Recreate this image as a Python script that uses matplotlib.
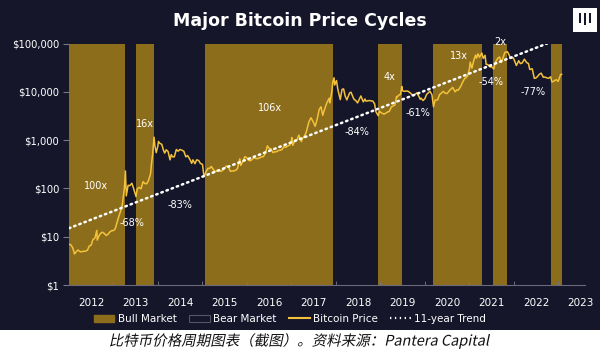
"""
Major Bitcoin price cycles: log-scale BTC price with bull/bear shading
and the 11-year trend line.
"""

import matplotlib
matplotlib.use("Agg")
import matplotlib.pyplot as plt
from matplotlib.patches import Patch, Rectangle, PathPatch
from matplotlib.lines import Line2D
from matplotlib.textpath import TextPath
from matplotlib.font_manager import FontProperties
from matplotlib.transforms import Affine2D, IdentityTransform
import pandas as pd

BG = "#16162b"
BULL = "#8c6d1c"
PRICE = "#f3c23a"

# bull market windows (start, end)
bull_starts = ["2012-01-01", "2013-07-05", "2015-01-20", "2018-12-10", "2020-03-08", "2021-07-12", "2022-11-06"]
bull_ends = ["2013-04-08", "2013-11-30", "2017-12-05", "2019-07-01", "2021-04-12", "2021-11-04", "2023-01-30"]

price_dates = [
    "2012-01-01", "2012-01-15", "2012-02-01", "2012-02-15", "2012-03-01", "2012-03-15", "2012-04-01",
    "2012-04-15", "2012-05-01", "2012-05-15", "2012-06-01", "2012-06-15", "2012-07-01", "2012-07-15",
    "2012-08-01", "2012-08-16", "2012-08-20", "2012-09-01", "2012-09-15", "2012-10-01", "2012-10-15",
    "2012-11-01", "2012-11-15", "2012-12-01", "2012-12-15",
    "2013-01-01", "2013-01-15", "2013-02-01", "2013-02-15", "2013-03-01", "2013-03-15", "2013-04-01",
    "2013-04-09", "2013-04-16", "2013-05-01", "2013-05-15", "2013-06-01", "2013-06-15", "2013-07-05",
    "2013-07-15", "2013-08-01", "2013-08-15", "2013-09-01", "2013-09-15", "2013-10-01", "2013-10-15",
    "2013-11-01", "2013-11-10", "2013-11-18", "2013-11-30", "2013-12-07", "2013-12-18", "2013-12-31",
    "2014-01-05", "2014-01-15", "2014-02-01", "2014-02-15", "2014-02-25", "2014-03-10", "2014-03-25",
    "2014-04-10", "2014-04-20", "2014-05-01", "2014-05-15", "2014-06-01", "2014-06-15", "2014-07-01",
    "2014-07-15", "2014-08-01", "2014-08-18", "2014-09-01", "2014-09-20", "2014-10-05", "2014-10-15",
    "2014-11-01", "2014-11-15", "2014-12-01", "2014-12-15",
    "2015-01-01", "2015-01-14", "2015-02-01", "2015-02-15", "2015-03-01", "2015-03-15", "2015-04-01",
    "2015-04-15", "2015-05-01", "2015-05-15", "2015-06-01", "2015-06-15", "2015-07-01", "2015-07-15",
    "2015-08-01", "2015-08-18", "2015-09-01", "2015-09-15", "2015-10-01", "2015-10-15", "2015-11-04",
    "2015-11-12", "2015-12-01", "2015-12-15",
    "2016-01-01", "2016-01-15", "2016-02-01", "2016-02-15", "2016-03-01", "2016-03-15", "2016-04-01",
    "2016-04-15", "2016-05-01", "2016-05-15", "2016-06-01", "2016-06-17", "2016-07-01", "2016-07-15",
    "2016-08-02", "2016-08-15", "2016-09-01", "2016-09-15", "2016-10-01", "2016-10-15", "2016-11-01",
    "2016-11-15", "2016-12-01", "2016-12-20", "2016-12-31",
    "2017-01-04", "2017-01-12", "2017-02-01", "2017-02-15", "2017-03-03", "2017-03-24", "2017-04-01",
    "2017-04-15", "2017-05-01", "2017-05-25", "2017-06-10", "2017-06-25", "2017-07-15", "2017-08-01",
    "2017-08-17", "2017-09-01", "2017-09-15", "2017-10-01", "2017-10-20", "2017-11-08", "2017-11-12",
    "2017-11-29", "2017-12-07", "2017-12-17", "2017-12-22",
    "2018-01-06", "2018-01-17", "2018-02-06", "2018-02-20", "2018-03-05", "2018-03-18", "2018-04-01",
    "2018-04-24", "2018-05-05", "2018-05-28", "2018-06-15", "2018-06-28", "2018-07-25", "2018-08-14",
    "2018-08-28", "2018-09-05", "2018-09-20", "2018-10-01", "2018-10-15", "2018-11-01", "2018-11-15",
    "2018-11-25", "2018-12-15", "2018-12-24",
    "2019-01-01", "2019-01-15", "2019-02-01", "2019-02-15", "2019-03-01", "2019-03-15", "2019-04-02",
    "2019-04-15", "2019-05-01", "2019-05-14", "2019-05-20", "2019-06-01", "2019-06-15", "2019-06-26",
    "2019-07-01", "2019-07-15", "2019-08-01", "2019-08-15", "2019-09-01", "2019-09-25", "2019-10-01",
    "2019-10-26", "2019-11-01", "2019-11-25", "2019-12-01", "2019-12-17",
    "2020-01-01", "2020-01-15", "2020-02-12", "2020-02-28", "2020-03-12", "2020-03-25", "2020-04-15",
    "2020-04-30", "2020-05-15", "2020-06-01", "2020-06-15", "2020-07-01", "2020-07-27", "2020-08-17",
    "2020-09-05", "2020-09-20", "2020-10-01", "2020-10-21", "2020-11-05", "2020-11-24", "2020-12-01",
    "2020-12-16", "2020-12-31",
    "2021-01-08", "2021-01-22", "2021-02-08", "2021-02-21", "2021-03-01", "2021-03-13", "2021-03-25",
    "2021-04-14", "2021-04-25", "2021-05-10", "2021-05-19", "2021-06-01", "2021-06-22", "2021-07-01",
    "2021-07-20", "2021-08-01", "2021-08-22", "2021-09-06", "2021-09-21", "2021-10-01", "2021-10-20",
    "2021-11-10", "2021-11-25", "2021-12-04", "2021-12-27",
    "2022-01-01", "2022-01-22", "2022-02-10", "2022-02-24", "2022-03-10", "2022-03-29", "2022-04-15",
    "2022-05-01", "2022-05-12", "2022-06-01", "2022-06-18", "2022-07-01", "2022-07-15", "2022-07-31",
    "2022-08-14", "2022-08-31", "2022-09-13", "2022-09-30", "2022-10-15", "2022-10-31", "2022-11-09",
    "2022-11-20", "2022-12-01", "2022-12-15", "2022-12-31",
    "2023-01-15", "2023-01-20", "2023-01-28",
]
price_values = [
    7.0, 6.8, 5.9, 4.4, 4.9, 5.3, 4.9,
    4.9, 5.0, 5.0, 5.3, 6.4, 6.7, 8.7,
    9.4, 13.5, 8.5, 10.2, 11.6, 12.4, 11.8,
    10.6, 11.2, 12.5, 13.3,
    13.4, 14.5, 20.4, 27, 34, 47, 104,
    230, 70, 116, 114, 128, 100, 68,
    98, 105, 98, 138, 126, 125, 145,
    200, 340, 500, 1150, 760, 550, 750,
    940, 860, 820, 620, 540, 630, 580,
    390, 500, 450, 450, 640, 590, 640,
    620, 590, 450, 480, 400, 330, 390,
    325, 390, 380, 330,
    315, 175, 225, 260, 260, 285, 245,
    220, 235, 240, 225, 235, 260, 290,
    285, 225, 230, 230, 237, 255, 410,
    300, 370, 455,
    430, 380, 375, 405, 435, 415, 415,
    430, 450, 455, 535, 760, 675, 665,
    550, 570, 575, 610, 615, 640, 730,
    710, 755, 800, 960,
    1130, 780, 1000, 1010, 1270, 930, 1080,
    1180, 1420, 2400, 2900, 2500, 1930, 2750,
    4300, 4900, 3250, 4400, 6000, 7400, 5900,
    10000, 16000, 19500, 13800,
    17100, 11200, 6900, 11200, 11500, 8200, 6800,
    9500, 9800, 7100, 6500, 5900, 8200, 6200,
    7100, 6400, 6500, 6600, 6500, 6400, 5600,
    3900, 3200, 4000,
    3800, 3600, 3450, 3620, 3820, 3920, 4900,
    5050, 5400, 8000, 7800, 8550, 8800, 12900,
    10600, 10200, 10400, 10300, 9600, 8400, 8300,
    9500, 9250, 7000, 7400, 6600,
    7200, 8800, 10300, 8700, 4900, 6700, 6800,
    8700, 9400, 10200, 9400, 9200, 11000, 12300,
    10000, 11000, 10800, 12900, 15600, 19100, 19200,
    21300, 29000,
    41000, 30800, 46200, 57500, 49600, 61200, 52000,
    63500, 49000, 57000, 37000, 36700, 32500, 33500,
    29800, 39900, 49300, 52600, 40700, 48200, 65900,
    67500, 57100, 49000, 50700,
    47700, 35000, 44000, 38300, 39400, 47400, 40500,
    38500, 29000, 30000, 19000, 19300, 20800, 23300,
    24300, 20000, 20200, 19400, 19100, 20500, 16000,
    16300, 17000, 17800, 16500,
    21000, 22800, 23100,
]

# 11-year trend endpoints
trend_years = [2012.0, 2022.75]
trend_values = [15, 100000]

year_labels = [str(y) for y in range(2012, 2024)]
ytick_values = [1, 10, 100, 1000, 10000, 100000]
ytick_labels = ["$1", "$10", "$100", "$1,000", "$10,000", "$100,000"]

# cycle annotations: label, year position, price position
ann_labels = ["100x", "-68%", "16x", "-83%", "106x", "-84%", "4x", "-61%", "13x", "-54%", "2x", "-77%"]
ann_x = [2012.61, 2013.42, 2013.71, 2014.49, 2016.52, 2018.47, 2019.21, 2019.84, 2020.76, 2021.48, 2021.69, 2022.43]
ann_y = [110, 19, 2200, 45, 4600, 1480, 20000, 3650, 55000, 15900, 107000, 10000]

CAPTION = "比特币价格周期图表（截图）。资料来源：Pantera Capital"


def to_year(dates):
    d = pd.to_datetime(pd.Series(dates))
    return (d.dt.year + (d.dt.dayofyear - 1) / 365.25).to_numpy()


def add_italic_caption(fig, text, size_px, cx, cy):
    """CJK fonts have no italic face, so slant the glyph outlines by hand."""
    tp = TextPath((0, 0), text, size=size_px, prop=FontProperties(family="Noto Sans CJK SC"))
    skew = Affine2D().skew_deg(12, 0)
    ext = skew.transform_path(tp).get_extents()
    tr = skew + Affine2D().translate(cx - (ext.x0 + ext.x1) / 2, cy - (ext.y0 + ext.y1) / 2)
    fig.patches.append(PathPatch(tr.transform_path(tp), transform=IdentityTransform(),
                                 facecolor="#111111", edgecolor="none", zorder=3))


def main():
    fig = plt.figure(figsize=(6.0, 3.52), dpi=100)
    fig.patch.set_facecolor(BG)
    ax = fig.add_axes([0.115, 0.1903, 0.86, 0.6861])
    ax.set_facecolor(BG)

    for s, e in zip(to_year(bull_starts), to_year(bull_ends)):
        ax.axvspan(s, e, color=BULL, lw=0, zorder=1)

    ax.plot(to_year(price_dates), price_values, color=PRICE, lw=1.1, zorder=3)
    ax.plot(trend_years, trend_values, color="white", lw=1.8, ls=(0, (0.6, 1.6)),
            dash_capstyle="round", zorder=4)

    for t, x, y in zip(ann_labels, ann_x, ann_y):
        ax.text(x, y, t, color="white", fontsize=7, ha="center", va="center", zorder=5)

    ax.set_yscale("log")
    ax.set_ylim(1, 100000)
    ax.set_xlim(2012.0, 2023.6)
    ax.set_yticks(ytick_values)
    ax.set_yticklabels(ytick_labels)
    ax.minorticks_off()
    ax.set_xticks([int(y) + 0.5 for y in year_labels])
    ax.set_xticklabels(year_labels)
    ax.set_xticks(range(2013, 2024), minor=True)
    ax.tick_params(axis="x", which="major", length=0, pad=9, colors="white", labelsize=7.5)
    ax.tick_params(axis="x", which="minor", length=3, direction="in", color="#777788")
    ax.tick_params(axis="y", length=4, color="#777788", colors="white", labelsize=7.2, pad=3)
    for side in ["top", "right", "left"]:
        ax.spines[side].set_visible(False)
    ax.spines["bottom"].set_color("#6a6a7a")
    ax.spines["bottom"].set_linewidth(0.8)

    fig.text(0.5, 0.94, "Major Bitcoin Price Cycles", color="white", fontsize=12.5,
             fontweight="bold", ha="center", va="center")

    # logo box
    fig.patches.append(Rectangle((573 / 600, 1 - 32 / 352), 24 / 600, 24 / 352,
                                 transform=fig.transFigure, facecolor="white", lw=0))
    for bx, top, bot in [(579, 13, 23), (584, 13, 25), (589, 13, 23)]:
        fig.patches.append(Rectangle((bx / 600, 1 - bot / 352), 1.6 / 600, (bot - top) / 352,
                                     transform=fig.transFigure, facecolor=BG, lw=0))

    handles = [
        Patch(facecolor=BULL, edgecolor=BULL),
        Patch(facecolor=BG, edgecolor="#55556a", lw=0.8),
        Line2D([], [], color=PRICE, lw=1.5),
        Line2D([], [], color="white", lw=1.6, ls=(0, (0.6, 1.6))),
    ]
    fig.legend(handles, ["Bull Market", "Bear Market", "Bitcoin Price", "11-year Trend"],
               loc="center", bbox_to_anchor=(0.483, 0.094), ncol=4, frameon=False,
               fontsize=7.5, handlelength=2.0, handleheight=0.6, columnspacing=1.2,
               handletextpad=0.3, labelcolor="white")

    # caption strip
    fig.patches.append(Rectangle((0, 0), 1, 22 / 352, transform=fig.transFigure,
                                 facecolor="white", lw=0, zorder=0))
    add_italic_caption(fig, CAPTION, 14.5, 300, 352 - 341)

    fig.savefig("out.png", dpi=100, facecolor=fig.get_facecolor())
    plt.close(fig)


if __name__ == "__main__":
    main()
